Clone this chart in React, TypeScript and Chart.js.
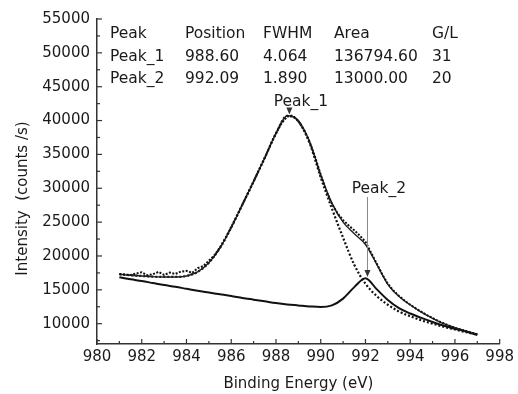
import React, { useEffect, useRef } from "react";
import { Chart, registerables } from "chart.js";
Chart.register(...registerables);

// ---------- data ----------
const energyFit = [
  981, 981.5, 982, 982.5, 983, 983.5, 984, 984.5, 985, 985.5, 986, 986.5, 987, 987.5, 988, 988.5,
  989, 989.5, 990, 990.5, 991, 991.5, 992, 992.5, 993, 993.5, 994, 994.5, 995, 995.5, 996, 996.5, 997,
];
const envelopeFit = [
  17300, 17150, 17050, 16950, 16900, 16900, 17050, 17650, 19000, 21200, 24200, 27600, 31000, 34500, 38100, 40700,
  40000, 36900, 32000, 27800, 25000, 23300, 21700, 18800, 15800, 14000, 12800, 11700, 10800, 10000, 9400, 8900, 8450,
];
const peak1Fit = [
  17300, 17150, 17050, 16950, 16900, 16900, 17050, 17650, 19000, 21200, 24200, 27600, 31000, 34500, 38100, 40700,
  39900, 36700, 31600, 27000, 22700, 18700, 15900, 14100, 12800, 11800, 11100, 10500, 10000, 9550, 9150, 8750, 8380,
];
const peak2Fit = [
  16850, 16550, 16300, 16000, 15700, 15450, 15150, 14850, 14600, 14350, 14100, 13800, 13550, 13300, 13050, 12850,
  12700, 12550, 12450, 12700, 13700, 15400, 16700, 15100, 13500, 12300, 11500, 10850, 10250, 9700, 9250, 8850, 8320,
];

const energyRaw = [
  981, 981.25, 981.5, 981.75, 982, 982.25, 982.5, 982.75, 983, 983.25, 983.5, 983.75, 984, 984.25, 984.5, 984.75,
  985, 985.25, 985.5, 985.75, 986, 986.25, 986.5, 986.75, 987, 987.25, 987.5, 987.75, 988, 988.25, 988.5, 988.75,
  989, 989.25, 989.5, 989.75, 990, 990.25, 990.5, 990.75, 991, 991.25, 991.5, 991.75, 992, 992.25, 992.5, 992.75,
  993, 993.25, 993.5, 993.75, 994, 994.25, 994.5, 994.75, 995, 995.25, 995.5, 995.75, 996, 996.25, 996.5, 996.75, 997,
];
const rawCounts = [
  17350, 17250, 17200, 17400, 17600, 17150, 17300, 17650, 17200, 17550, 17350, 17700, 17800, 17500, 18200, 18500,
  19300, 20100, 21300, 22700, 24300, 25900, 27600, 29300, 31000, 32800, 34500, 36400, 38100, 39600, 40600, 40750,
  39900, 38600, 36900, 34600, 32000, 29600, 27700, 26300, 25300, 24500, 23800, 23000, 22100, 20500, 18900, 17300,
  15900, 14900, 14100, 13400, 12800, 12250, 11750, 11250, 10850, 10400, 10050, 9700, 9400, 9150, 8900, 8650, 8450,
];

const xTickValues = [980, 982, 984, 986, 988, 990, 992, 994, 996, 998];
const yTickValues = [10000, 15000, 20000, 25000, 30000, 35000, 40000, 45000, 50000, 55000];

const tableHeader = ["Peak", "Position", "FWHM", "Area", "G/L"];
const tableRows = [
  ["Peak_1", "988.60", "4.064", "136794.60", "31"],
  ["Peak_2", "992.09", "1.890", "13000.00", "20"],
];
const peakLabels = ["Peak_1", "Peak_2"];
const peakPositions = [988.6, 992.09];
const peakLabelLevels = [42150, 29300];
const peakArrowTips = [40900, 16900];

const xTitle = "Binding Energy (eV)";
const yTitle = "Intensity  (counts /s)";

const FONT = "DejaVu Sans";
const INK = "#1a1a1a";

const decorPlugin = {
  id: "decor",
  afterDraw(chart: any) {
    const ctx = chart.ctx;
    const xs = chart.scales.x;
    const ys = chart.scales.y;
    const { left, bottom, top } = chart.chartArea;
    ctx.save();
    // ticks (inward)
    ctx.strokeStyle = "#333";
    ctx.lineWidth = 1.2;
    for (let v = 980; v <= 998; v += 1) {
      const px = xs.getPixelForValue(v);
      const len = v % 2 === 0 ? 5 : 3;
      ctx.beginPath();
      ctx.moveTo(px, bottom);
      ctx.lineTo(px, bottom - len);
      ctx.stroke();
    }
    for (let v = 7500; v <= 55000; v += 2500) {
      const py = ys.getPixelForValue(v);
      const len = v % 5000 === 0 ? 5 : 3;
      ctx.beginPath();
      ctx.moveTo(left, py);
      ctx.lineTo(left + len, py);
      ctx.stroke();
    }
    // y title
    ctx.fillStyle = INK;
    ctx.font = `15px "${FONT}"`;
    ctx.textAlign = "center";
    ctx.textBaseline = "middle";
    ctx.save();
    ctx.translate(23, (top + bottom) / 2 + 17);
    ctx.rotate(-Math.PI / 2);
    ctx.fillText(yTitle, 0, 0);
    ctx.restore();
    // table
    ctx.font = `15.5px "${FONT}"`;
    ctx.textAlign = "left";
    ctx.textBaseline = "alphabetic";
    const cols = [110, 185, 263, 334, 432];
    const rows = [tableHeader, ...tableRows];
    const baselines = [38, 60.5, 83];
    rows.forEach((r, ri) => {
      r.forEach((t, ci) => ctx.fillText(t, cols[ci], baselines[ri]));
    });
    // peak annotations
    ctx.font = `15.5px "${FONT}"`;
    ctx.textAlign = "center";
    peakLabels.forEach((lab, i) => {
      const px = xs.getPixelForValue(peakPositions[i]);
      const ly = ys.getPixelForValue(peakLabelLevels[i]);
      const tip = ys.getPixelForValue(peakArrowTips[i]);
      ctx.fillStyle = INK;
      ctx.fillText(lab, px + 11.5, ly);
      ctx.strokeStyle = i === 0 ? "#444" : "#888";
      ctx.lineWidth = 1;
      ctx.beginPath();
      ctx.moveTo(px, ly + 4);
      ctx.lineTo(px, tip - 3);
      ctx.stroke();
      ctx.fillStyle = "#333";
      ctx.beginPath();
      ctx.moveTo(px, tip);
      ctx.lineTo(px - 3, tip - 7);
      ctx.lineTo(px + 3, tip - 7);
      ctx.closePath();
      ctx.fill();
    });
    ctx.restore();
  },
};

export default function App() {
  const ref = useRef<HTMLCanvasElement | null>(null);
  useEffect(() => {
    if (!ref.current) return;
    const toPts = (xs: number[], ys: number[]) => xs.map((x, i) => ({ x, y: ys[i] }));
    const chart = new Chart(ref.current, {
      type: "line",
      data: {
        datasets: [
          {
            label: "Data",
            data: toPts(energyRaw, rawCounts),
            borderColor: "#111",
            borderWidth: 2,
            borderDash: [2, 1.5],
            pointRadius: 0,
            tension: 0,
          },
          {
            label: "Envelope",
            data: toPts(energyFit, envelopeFit),
            borderColor: "#222",
            borderWidth: 1.4,
            pointRadius: 0,
            cubicInterpolationMode: "monotone",
          },
          {
            label: "Peak_1",
            data: toPts(energyFit, peak1Fit),
            borderColor: "#111",
            borderWidth: 2.2,
            borderDash: [2, 2],
            pointRadius: 0,
            cubicInterpolationMode: "monotone",
          },
          {
            label: "Peak_2",
            data: toPts(energyFit, peak2Fit),
            borderColor: "#111",
            borderWidth: 2,
            pointRadius: 0,
            cubicInterpolationMode: "monotone",
          },
        ],
      },
      options: {
        animation: false,
        responsive: true,
        maintainAspectRatio: false,
        layout: { padding: { top: 19, right: 16, left: 0, bottom: 0 } },
        plugins: { legend: { display: false }, tooltip: { enabled: false } },
        scales: {
          x: {
            type: "linear",
            min: 980,
            max: 998,
            grid: { display: false, drawTicks: false },
            border: { display: true, color: "#333", width: 1.5 },
            ticks: {
              padding: 4,
              color: INK,
              font: { family: FONT, size: 15 },
              callback: (v: any) => String(v),
            },
            afterBuildTicks: (s: any) => {
              s.ticks = xTickValues.map((v) => ({ value: v }));
            },
            afterFit: (s: any) => {
              s.height = 50;
            },
            title: {
              display: true,
              text: xTitle,
              color: INK,
              font: { family: FONT, size: 15 },
              padding: { top: 0, bottom: 1 },
            },
          },
          y: {
            type: "linear",
            min: 7000,
            max: 55000,
            grid: { display: false, drawTicks: false },
            border: { display: true, color: "#333", width: 1.5 },
            ticks: {
              padding: 7,
              color: INK,
              font: { family: FONT, size: 15 },
              callback: (v: any) => String(v),
            },
            afterBuildTicks: (s: any) => {
              s.ticks = yTickValues.map((v) => ({ value: v }));
            },
            afterFit: (s: any) => {
              s.width = 97;
            },
          },
        },
      },
      plugins: [decorPlugin],
    });
    return () => chart.destroy();
  }, []);
  return (
    <div style={{ position: "fixed", left: 0, top: 0, width: 518, height: 394, background: "#fff" }}>
      <canvas ref={ref} />
    </div>
  );
}
